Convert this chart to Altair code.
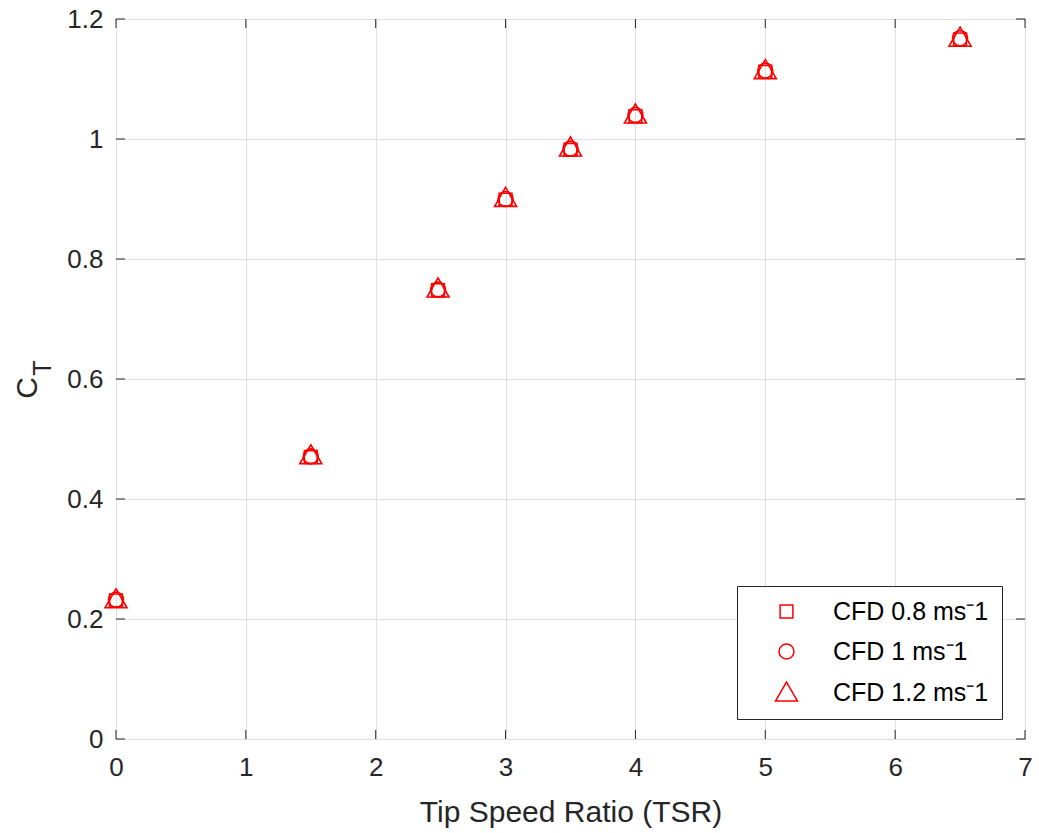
import altair as alt
import pandas as pd

# ---- data ----
tsr = [0, 1.5, 2.48, 3, 3.5, 4, 5, 6.5]
ct_08 = [0.231, 0.470, 0.748, 0.899, 0.982, 1.038, 1.112, 1.166]
ct_10 = [0.232, 0.471, 0.749, 0.900, 0.984, 1.040, 1.114, 1.168]
ct_12 = [0.233, 0.473, 0.751, 0.902, 0.986, 1.041, 1.115, 1.169]
series = ["CFD 0.8 ms\u207b1", "CFD 1 ms\u207b1", "CFD 1.2 ms\u207b1"]
x_ticks = [0, 1, 2, 3, 4, 5, 6, 7]
y_ticks = [0, 0.2, 0.4, 0.6, 0.8, 1.0, 1.2]

FONT = "Liberation Sans"
DARK = "#262626"
W, H = 909, 720

rows = []
for name, vals in zip(series, [ct_08, ct_10, ct_12]):
    for t, v in zip(tsr, vals):
        rows.append({"tsr": t, "ct": v, "series": name})
df = pd.DataFrame(rows)

xdf = pd.DataFrame({"v": x_ticks})
ydf = pd.DataFrame({"v": y_ticks})

xscale = alt.Scale(domain=[0, 7], nice=False, zero=False)
yscale = alt.Scale(domain=[0, 1.2], nice=False, zero=False)

shapes = [
    "M-0.58,-0.58H0.58V0.58H-0.58Z",
    "M-0.68,0A0.68,0.68 0 1,0 0.68,0A0.68,0.68 0 1,0 -0.68,0Z",
    "M0,-0.95L1,0.78L-1,0.78Z",
]

points = alt.Chart(df).mark_point(
    filled=False, color="red", strokeWidth=1.6, size=484, opacity=1
).encode(
    x=alt.X("tsr:Q", scale=xscale,
            axis=alt.Axis(values=x_ticks, format="~g", title="Tip Speed Ratio (TSR)",
                          titleFontSize=30, titleFont=FONT, titleColor=DARK,
                          titleFontWeight="normal", titleBaseline="alphabetic",
                          titleY=82, labelPadding=15, labelFlush=False)),
    y=alt.Y("ct:Q", scale=yscale,
            axis=alt.Axis(values=y_ticks, format="~g", title=None, labelPadding=13,
                          labelFlush=False)),
    shape=alt.Shape("series:N", scale=alt.Scale(domain=series, range=shapes),
                    legend=alt.Legend(title=None, orient="none", legendX=621, legendY=567,
                                      padding=13, symbolOffset=24, labelOffset=34,
                                      rowPadding=14, strokeColor=DARK, fillColor="white",
                                      labelFont=FONT, labelFontSize=25, labelColor="black",
                                      labelLimit=400, symbolSize=484,
                                      symbolStrokeWidth=1.5, symbolStrokeColor="red",
                                      symbolFillColor="transparent")),
)

def xrule(y0, y1):
    return alt.Chart(xdf).mark_rule(color=DARK, strokeWidth=1).encode(
        x=alt.X("v:Q", scale=xscale), y=alt.value(y0), y2=alt.value(y1))

def yrule(x0, x1):
    return alt.Chart(ydf).mark_rule(color=DARK, strokeWidth=1).encode(
        y=alt.Y("v:Q", scale=yscale), x=alt.value(x0), x2=alt.value(x1))

ticks = [xrule(H, H - 9), xrule(0, 9), yrule(0, 9), yrule(W, W - 9)]

ct_main = alt.Chart(pd.DataFrame({"t": ["C"]})).mark_text(
    font=FONT, fontSize=30, color=DARK, angle=270, align="center", baseline="alphabetic"
).encode(text="t:N", x=alt.value(-79), y=alt.value(369))
ct_sub = alt.Chart(pd.DataFrame({"t": ["T"]})).mark_text(
    font=FONT, fontSize=25, color=DARK, angle=270, align="center", baseline="alphabetic"
).encode(text="t:N", x=alt.value(-65), y=alt.value(349))

chart = alt.layer(points, *ticks, ct_main, ct_sub).properties(
    width=W, height=H,
    autosize=alt.AutoSizeParams(type="none"),
    padding={"left": 116, "top": 19, "right": 14, "bottom": 94},
    background="white",
).configure_view(
    stroke=DARK, strokeWidth=1
).configure_axis(
    grid=True, gridColor="#dfdfdf", gridWidth=1, domain=False, ticks=False,
    labelFont=FONT, labelFontSize=26, labelColor=DARK,
)

chart.save("out.html", embed_options={"renderer": "svg", "actions": False})
